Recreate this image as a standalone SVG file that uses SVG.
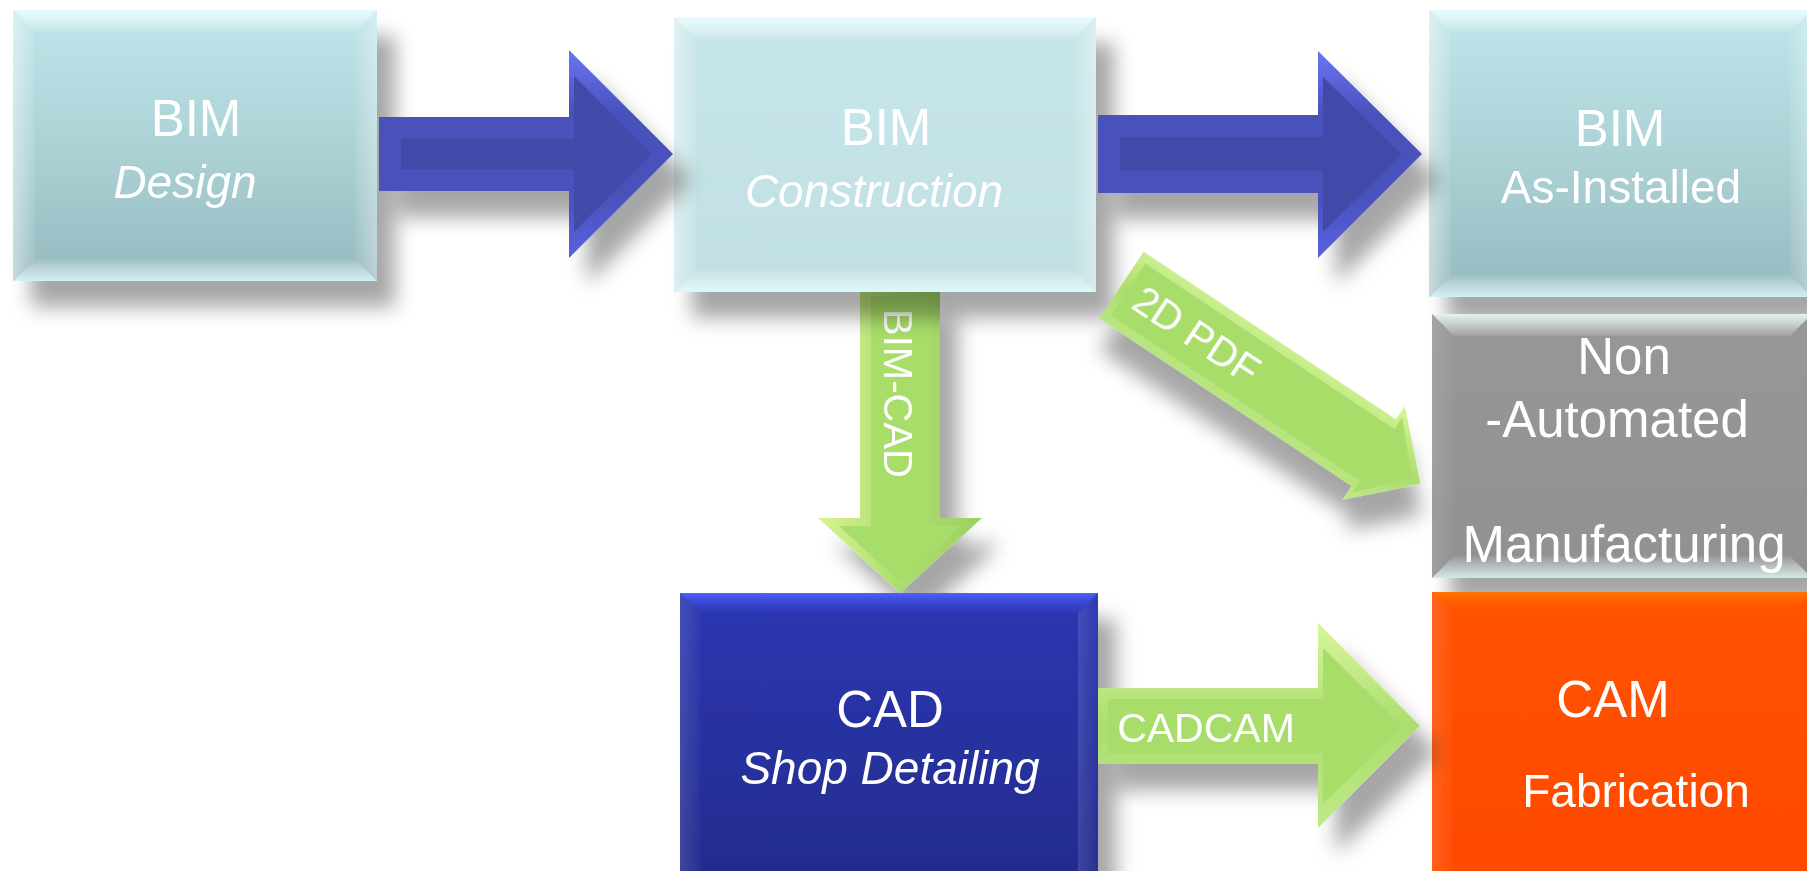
<svg xmlns="http://www.w3.org/2000/svg" width="1807" height="871" viewBox="0 0 1807 871">
<defs>
<filter id="sh" x="-20%" y="-20%" width="160%" height="160%">
<feDropShadow dx="18" dy="26" stdDeviation="10" flood-color="#000" flood-opacity="0.35"/>
</filter>
<linearGradient id="gTeal" x1="0" y1="0" x2="0" y2="1">
<stop offset="0" stop-color="#bfe6ea"/><stop offset="0.55" stop-color="#aad0d4"/><stop offset="1" stop-color="#96b9be"/>
</linearGradient>
<linearGradient id="gTeal2" x1="0" y1="0" x2="0" y2="1">
<stop offset="0" stop-color="#c7e6e9"/><stop offset="1" stop-color="#c2e0e3"/>
</linearGradient>
<linearGradient id="gGray" x1="0" y1="0" x2="0" y2="1">
<stop offset="0" stop-color="#979797"/><stop offset="1" stop-color="#919191"/>
</linearGradient>
<linearGradient id="gBlue" x1="0" y1="0" x2="0" y2="1">
<stop offset="0" stop-color="#2c37b2"/><stop offset="1" stop-color="#232b8c"/>
</linearGradient>
<linearGradient id="gOr" x1="0" y1="0" x2="0" y2="1">
<stop offset="0" stop-color="#ff5200"/><stop offset="1" stop-color="#ff4a00"/>
</linearGradient>
<linearGradient id="bvTop" x1="0" y1="0" x2="0" y2="1">
<stop offset="0" stop-color="#e8ffff" stop-opacity="0.9"/><stop offset="1" stop-color="#ffffff" stop-opacity="0.1"/>
</linearGradient>
<linearGradient id="bvBot" x1="0" y1="0" x2="0" y2="1">
<stop offset="0" stop-color="#ffffff" stop-opacity="0.05"/><stop offset="1" stop-color="#e0ffff" stop-opacity="0.8"/>
</linearGradient>
<linearGradient id="bvL" x1="0" y1="0" x2="1" y2="0">
<stop offset="0" stop-color="#ffffff" stop-opacity="0.45"/><stop offset="1" stop-color="#ffffff" stop-opacity="0.08"/>
</linearGradient>
<linearGradient id="bvR" x1="1" y1="0" x2="0" y2="0">
<stop offset="0" stop-color="#ffffff" stop-opacity="0.35"/><stop offset="1" stop-color="#ffffff" stop-opacity="0.05"/>
</linearGradient>
<linearGradient id="bvTopBlue" x1="0" y1="0" x2="0" y2="1">
<stop offset="0" stop-color="#4f60ff" stop-opacity="1"/><stop offset="1" stop-color="#3644d0" stop-opacity="0.2"/>
</linearGradient>
<linearGradient id="bvTopOr" x1="0" y1="0" x2="0" y2="1">
<stop offset="0" stop-color="#ff7400" stop-opacity="1"/><stop offset="1" stop-color="#ff5a00" stop-opacity="0.1"/>
</linearGradient>
<linearGradient id="bvSideDark" x1="0" y1="0" x2="1" y2="0">
<stop offset="0" stop-color="#ffffff" stop-opacity="0.12"/><stop offset="1" stop-color="#ffffff" stop-opacity="0.02"/>
</linearGradient>
<linearGradient id="blueEdge" x1="0" y1="0" x2="0" y2="1">
<stop offset="0" stop-color="#6a75f5"/><stop offset="0.3" stop-color="#4a51ba"/><stop offset="0.7" stop-color="#4a51ba"/><stop offset="1" stop-color="#5862de"/>
</linearGradient>
<linearGradient id="greenEdgeV" x1="0" y1="0" x2="1" y2="0">
<stop offset="0" stop-color="#d9f394"/><stop offset="0.5" stop-color="#acdd70"/><stop offset="1" stop-color="#9dd062"/>
</linearGradient>
<linearGradient id="greenEdgeH" x1="0" y1="0" x2="0" y2="1">
<stop offset="0" stop-color="#d8f69c"/><stop offset="0.5" stop-color="#acdd6f"/><stop offset="1" stop-color="#bfe987"/>
</linearGradient>
</defs>
<style>
text{font-family:"Liberation Sans",Arial,sans-serif;fill:#fff;text-anchor:middle}
.t{font-size:51px}
.s{font-size:46px}
.i{font-style:italic}
.lbl{font-size:40px}
.bt{fill:url(#bvTop)}
.bb{fill:url(#bvBot)}
.bl{fill:url(#bvL)}
.br{fill:url(#bvR)}
.bd{fill:url(#bvSideDark)}
.blueIn{fill:#4349a9}
.greenIn{fill:#a9dd6b}
</style>

<g id="connectors">
<g id="arrow-bimcad" filter="url(#sh)">
<polygon points="860,292 940,292 940,518 982,518 900,593 818,518 860,518" fill="url(#greenEdgeV)"/>
<polygon class="greenIn" points="871,296 929,296 929,526 961,526 900,582 839,526 871,526"/>
<text class="lbl" transform="translate(898 393.5) rotate(90)" y="14">BIM-CAD</text>
</g>
</g>

<g id="node-bim-design" filter="url(#sh)">
<rect x="13" y="10" width="364" height="271" fill="url(#gTeal)"/>
<polygon class="bt" points="13,10 377,10 355,32 35,32"/>
<polygon class="bb" points="13,281 377,281 355,259 35,259"/>
<polygon class="bl" points="13,10 35,32 35,259 13,281"/>
<polygon class="br" points="377,10 355,32 355,259 377,281"/>
<text class="t" x="196" y="136">BIM</text>
<text class="s i" x="185" y="198">Design</text>
</g>

<g id="node-bim-construction" filter="url(#sh)">
<rect x="674" y="17" width="422" height="275" fill="url(#gTeal2)"/>
<polygon class="bt" points="674,17 1096,17 1074,39 696,39"/>
<polygon class="bb" points="674,292 1096,292 1074,270 696,270"/>
<polygon class="bl" points="674,17 696,39 696,270 674,292"/>
<polygon class="br" points="1096,17 1074,39 1074,270 1096,292"/>
<text class="t" x="886" y="145">BIM</text>
<text class="s i" x="874" y="207">Construction</text>
</g>

<g id="node-bim-asinstalled" filter="url(#sh)">
<rect x="1429" y="10" width="383" height="287" fill="url(#gTeal)"/>
<polygon class="bt" points="1429,10 1812,10 1790,32 1451,32"/>
<polygon class="bb" points="1429,297 1812,297 1790,275 1451,275"/>
<polygon class="bl" points="1429,10 1451,32 1451,275 1429,297"/>
<polygon class="br" points="1812,10 1790,32 1790,275 1812,297"/>
<text class="t" x="1620" y="146">BIM</text>
<text class="s" x="1621" y="203">As-Installed</text>
</g>

<g id="node-non-automated" filter="url(#sh)">
<rect x="1432" y="314" width="380" height="264" fill="url(#gGray)"/>
<polygon class="bt" points="1432,314 1812,314 1790,336 1454,336"/>
<polygon class="bb" points="1432,578 1812,578 1790,556 1454,556"/>
<polygon class="bd" points="1432,314 1454,336 1454,556 1432,578"/>
<text class="t" x="1624" y="374">Non</text>
<text class="t" x="1617" y="437">-Automated</text>
<text class="t" x="1624" y="562">Manufacturing</text>
</g>

<g id="node-cad" filter="url(#sh)">
<rect x="680" y="593" width="418" height="300" fill="url(#gBlue)"/>
<polygon points="680,593 1098,593 1078,613 700,613" fill="url(#bvTopBlue)"/>
<polygon class="bd" points="680,593 700,613 700,893 680,893"/>
<polygon class="bd" points="1098,593 1078,613 1078,893 1098,893"/>
<text class="t" x="890" y="727">CAD</text>
<text class="s i" x="890" y="784">Shop Detailing</text>
</g>

<g id="node-cam" filter="url(#sh)">
<rect x="1432" y="592" width="380" height="300" fill="url(#gOr)"/>
<polygon points="1432,592 1812,592 1792,612 1452,612" fill="url(#bvTopOr)"/>
<polygon class="bd" points="1432,592 1452,612 1452,892 1432,892"/>
<text class="t" x="1613" y="717">CAM</text>
<text class="s" x="1636" y="807">Fabrication</text>
</g>

<g id="connectors-2">
<g id="arrow-design-construction" filter="url(#sh)">
<polygon points="379,117 569,117 569,50 673,154 569,258 569,191 379,191" fill="url(#blueEdge)"/>
<polygon class="blueIn" points="401,139 574,139 574,76 652,154 574,232 574,169 401,169"/>
</g>
<g id="arrow-construction-asinstalled" filter="url(#sh)">
<polygon points="1098,115 1318,115 1318,51 1422,154 1318,258 1318,193 1098,193" fill="url(#blueEdge)"/>
<polygon class="blueIn" points="1120,137 1323,137 1323,77 1401,154 1323,232 1323,171 1120,171"/>
</g>
<g id="arrow-2dpdf" filter="url(#sh)" transform="translate(1121.5 285) rotate(33.6)">
<polygon points="0,-40 303,-40 303,-56 359,0 303,56 303,40 0,40" fill="url(#greenEdgeH)"/>
<polygon class="greenIn" points="8,-31 307,-31 307,-45 349,0 307,45 307,31 8,31"/>
<text class="lbl" x="90" y="14">2D PDF</text>
</g>
<g id="arrow-cadcam" filter="url(#sh)">
<polygon points="1098,688 1318,688 1318,623 1420,726 1318,828 1318,764 1098,764" fill="url(#greenEdgeH)"/>
<polygon class="greenIn" points="1108,699 1323,699 1323,648 1402,726 1323,804 1323,753 1108,753"/>
<text x="1206" y="742" style="font-size:41px">CADCAM</text>
</g>
</g>
</svg>
